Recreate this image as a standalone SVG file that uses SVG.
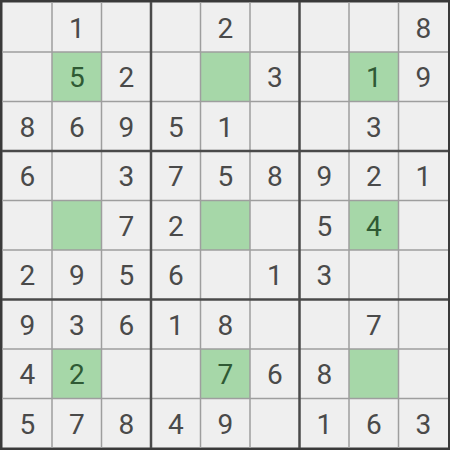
<svg xmlns="http://www.w3.org/2000/svg" width="450" height="450" viewBox="0 0 450 450">
<style>
.bg{fill:#3a3a3a}
.cell{fill:#efefef}
.hl{fill:#a6d7a8}
.thin{stroke:#9e9e9e;stroke-width:1.5}
.thick{stroke:#4a4a4a;stroke-width:2.5}
text{font-family:Roboto,"Liberation Sans",sans-serif;font-size:28px;fill:#4a4a4a;text-anchor:middle}
text.g{fill:#2f5a34}
</style>
<rect class="bg" x="0" y="0" width="450" height="450"/>
<rect class="cell" x="2.5" y="2.5" width="445.5" height="445"/>
<g id="highlights">
<rect class="hl" x="52" y="52" width="49.5" height="49.5"/>
<rect class="hl" x="200.5" y="52" width="49.5" height="49.5"/>
<rect class="hl" x="349" y="52" width="49.5" height="49.5"/>
<rect class="hl" x="52" y="200.5" width="49.5" height="49.5"/>
<rect class="hl" x="200.5" y="200.5" width="49.5" height="49.5"/>
<rect class="hl" x="349" y="200.5" width="49.5" height="49.5"/>
<rect class="hl" x="52" y="349" width="49.5" height="49.5"/>
<rect class="hl" x="200.5" y="349" width="49.5" height="49.5"/>
<rect class="hl" x="349" y="349" width="49.5" height="49.5"/>
</g>
<g id="grid">
<g class="thin">
<line x1="52" y1="2" x2="52" y2="448"/>
<line x1="101.5" y1="2" x2="101.5" y2="448"/>
<line x1="200.5" y1="2" x2="200.5" y2="448"/>
<line x1="250" y1="2" x2="250" y2="448"/>
<line x1="349" y1="2" x2="349" y2="448"/>
<line x1="398.5" y1="2" x2="398.5" y2="448"/>
<line x1="2" y1="52" x2="448" y2="52"/>
<line x1="2" y1="101.5" x2="448" y2="101.5"/>
<line x1="2" y1="200.5" x2="448" y2="200.5"/>
<line x1="2" y1="250" x2="448" y2="250"/>
<line x1="2" y1="349" x2="448" y2="349"/>
<line x1="2" y1="398.5" x2="448" y2="398.5"/>
</g>
<g class="thick">
<line x1="151" y1="2" x2="151" y2="448"/>
<line x1="299.5" y1="2" x2="299.5" y2="448"/>
<line x1="2" y1="151" x2="448" y2="151"/>
<line x1="2" y1="299.5" x2="448" y2="299.5"/>
</g>
</g>
<g id="digits">
<text x="76.75" y="37.5">1</text>
<text x="225.25" y="37.5">2</text>
<text x="423.25" y="37.5">8</text>

<text class="g" x="76.75" y="87">5</text>
<text x="126.25" y="87">2</text>
<text x="274.75" y="87">3</text>
<text class="g" x="373.75" y="87">1</text>
<text x="423.25" y="87">9</text>

<text x="27.25" y="136.5">8</text>
<text x="76.75" y="136.5">6</text>
<text x="126.25" y="136.5">9</text>
<text x="175.75" y="136.5">5</text>
<text x="225.25" y="136.5">1</text>
<text x="373.75" y="136.5">3</text>

<text x="27.25" y="186">6</text>
<text x="126.25" y="186">3</text>
<text x="175.75" y="186">7</text>
<text x="225.25" y="186">5</text>
<text x="274.75" y="186">8</text>
<text x="324.25" y="186">9</text>
<text x="373.75" y="186">2</text>
<text x="423.25" y="186">1</text>

<text x="126.25" y="235.5">7</text>
<text x="175.75" y="235.5">2</text>
<text x="324.25" y="235.5">5</text>
<text class="g" x="373.75" y="235.5">4</text>

<text x="27.25" y="285">2</text>
<text x="76.75" y="285">9</text>
<text x="126.25" y="285">5</text>
<text x="175.75" y="285">6</text>
<text x="274.75" y="285">1</text>
<text x="324.25" y="285">3</text>

<text x="27.25" y="334.5">9</text>
<text x="76.75" y="334.5">3</text>
<text x="126.25" y="334.5">6</text>
<text x="175.75" y="334.5">1</text>
<text x="225.25" y="334.5">8</text>
<text x="373.75" y="334.5">7</text>

<text x="27.25" y="384">4</text>
<text class="g" x="76.75" y="384">2</text>
<text class="g" x="225.25" y="384">7</text>
<text x="274.75" y="384">6</text>
<text x="324.25" y="384">8</text>

<text x="27.25" y="433.5">5</text>
<text x="76.75" y="433.5">7</text>
<text x="126.25" y="433.5">8</text>
<text x="175.75" y="433.5">4</text>
<text x="225.25" y="433.5">9</text>
<text x="324.25" y="433.5">1</text>
<text x="373.75" y="433.5">6</text>
<text x="423.25" y="433.5">3</text>
</g>
</svg>
